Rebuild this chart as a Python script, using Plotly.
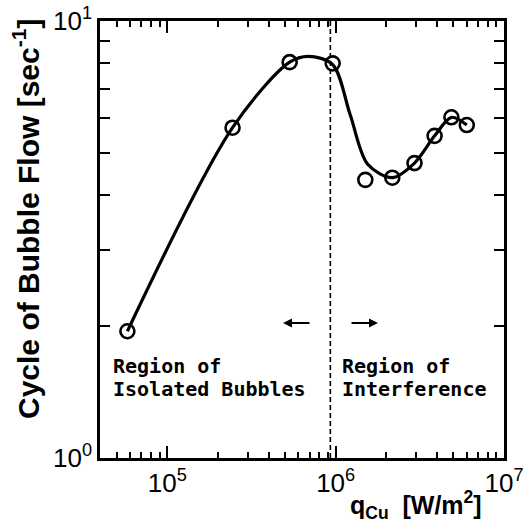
import plotly.graph_objects as go

# measured points (heat flux q_Cu [W/m^2], cycle of bubble flow [1/s])
q_points = [5.79e4, 2.44e5, 5.33e5, 9.6e5, 1.50e6, 2.17e6, 2.94e6, 3.87e6, 4.87e6, 6.01e6]
f_points = [1.95, 5.70, 8.05, 8.0, 4.33, 4.38, 4.73, 5.46, 6.02, 5.78]

# hand-drawn trend curve
q_curve = [5.79e4, 2.44e5, 5.33e5, 6.9e5, 9.6e5, 1.22e6, 1.55e6, 2.17e6, 2.94e6, 3.87e6, 4.87e6, 6.01e6]
f_curve = [1.95, 5.70, 8.05, 8.3, 7.95, 6.1, 4.7, 4.38, 4.73, 5.46, 6.02, 5.78]

# region boundary
q_boundary = [9.3e5, 9.3e5]
f_boundary = [1, 10]

x_major = [1e5, 1e6, 1e7]
x_major_text = ["10<sup>5</sup>", "10<sup>6</sup>", "10<sup>7</sup>"]
x_minor = [5e4, 6e4, 7e4, 8e4, 9e4,
           2e5, 3e5, 4e5, 5e5, 6e5, 7e5, 8e5, 9e5,
           2e6, 3e6, 4e6, 5e6, 6e6, 7e6, 8e6, 9e6]
y_major = [1, 10]
y_major_text = ["10<sup>0</sup>", "10<sup>1</sup>"]
y_minor = [2, 3, 4, 5, 6, 7, 8, 9]

W, H = 532, 524
L, R, T, B = 100, 28, 21, 66
pw, ph = W - L - R, H - T - B

def px(xp):
    return (xp - L) / pw

def py(yp):
    return (H - B - yp) / ph

fig = go.Figure()
fig.add_trace(go.Scatter(x=q_boundary, y=f_boundary, mode="lines",
                         line=dict(color="black", width=1.6, dash="5px,3px"),
                         showlegend=False, hoverinfo="skip"))
fig.add_trace(go.Scatter(x=q_curve, y=f_curve, mode="lines",
                         line=dict(color="black", width=3.2, shape="spline", smoothing=0.9),
                         showlegend=False))
fig.add_trace(go.Scatter(x=q_points, y=f_points, mode="markers",
                         marker=dict(symbol="circle-open", size=14, color="black",
                                     line=dict(color="black", width=2.6)),
                         showlegend=False))

tickfont = dict(family="Liberation Sans, Arial, sans-serif", size=26, color="black")
common = dict(showline=True, linecolor="black", linewidth=2.5, mirror="ticks",
              ticks="inside", tickcolor="black", tickwidth=2, showgrid=False,
              zeroline=False, tickfont=tickfont)

xminor = dict(tickmode="array", tickvals=x_minor, ticks="inside", ticklen=6,
              tickwidth=2, tickcolor="black", showgrid=False)
yminor = dict(tickmode="array", tickvals=y_minor, ticks="inside", ticklen=10,
              tickwidth=2, tickcolor="black", showgrid=False)

fig.update_layout(
    xaxis=dict(type="log", range=[4.6, 7], tickmode="array", tickvals=x_major,
               ticktext=x_major_text, ticklen=12, minor=xminor, **common),
    yaxis=dict(type="log", range=[0, 1], tickmode="array", tickvals=y_major,
               ticktext=y_major_text, ticklen=14, minor=yminor, **common),
)

title_font = dict(family="Liberation Sans, Arial, sans-serif", size=30, color="black", weight="bold")
xtitle_font = dict(family="Liberation Sans, Arial, sans-serif", size=25, color="black", weight="bold")
mono = dict(family="DejaVu Sans Mono, monospace", size=20, color="black", weight="bold")

annotations = [
    dict(text="Cycle of Bubble Flow [sec<sup>-1</sup>]", x=px(26), y=py(219), textangle=-90,
         font=title_font),
    dict(text="q<sub>Cu</sub>  [W/m<sup>2</sup>]", x=px(416), y=py(505), font=xtitle_font),
    dict(text="Region of", x=px(111), y=py(366), xanchor="left", font=mono),
    dict(text="Isolated Bubbles", x=px(111), y=py(389), xanchor="left", font=mono),
    dict(text="Region of", x=px(340), y=py(366), xanchor="left", font=mono),
    dict(text="Interference", x=px(340), y=py(389), xanchor="left", font=mono),
]
for a in annotations:
    a.update(xref="paper", yref="paper", showarrow=False, yanchor=a.get("yanchor", "middle"),
             xanchor=a.get("xanchor", "center"))
    fig.add_annotation(**a)

# arrows
fig.add_annotation(x=px(283), y=py(323), ax=28, ay=0, xref="paper", yref="paper",
                   axref="pixel", ayref="pixel", text="", showarrow=True, arrowhead=2,
                   arrowsize=1, arrowwidth=1.8, arrowcolor="black")
fig.add_annotation(x=px(378), y=py(323), ax=-28, ay=0, xref="paper", yref="paper",
                   axref="pixel", ayref="pixel", text="", showarrow=True, arrowhead=2,
                   arrowsize=1, arrowwidth=1.8, arrowcolor="black")

fig.update_layout(width=W, height=H, margin=dict(l=L, r=R, t=T, b=B, autoexpand=False),
                  plot_bgcolor="white", paper_bgcolor="white", showlegend=False)
fig.write_html("out.html")
